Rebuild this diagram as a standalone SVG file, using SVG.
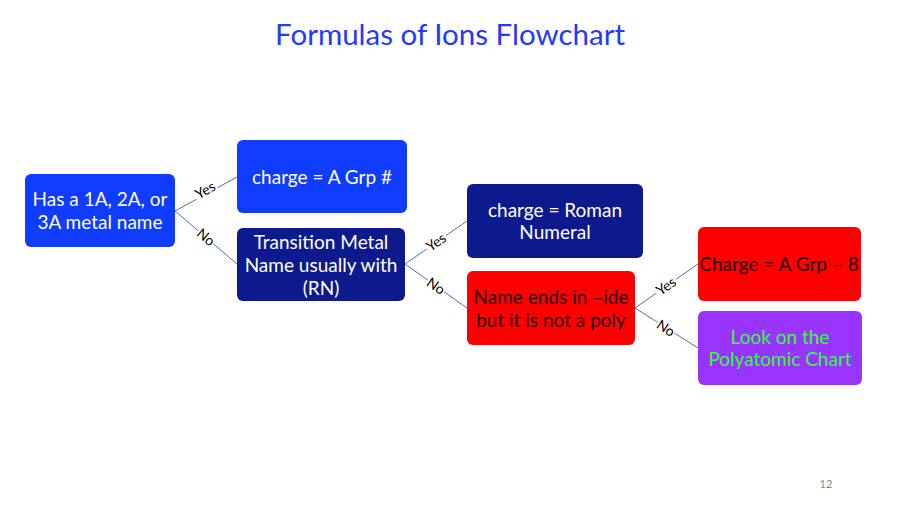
<svg xmlns="http://www.w3.org/2000/svg" width="900" height="506" viewBox="0 0 900 506">
<style>
.t{font-family:Lato,"Liberation Sans",sans-serif;font-size:19px;text-anchor:middle}
.w{fill:#ffffff}
.d{fill:#2a0000}
.g{fill:#33ff33}
.lbl{font-family:Lato,"Liberation Sans",sans-serif;font-size:14px;text-anchor:middle;fill:#000}
.c{stroke:#5b68b0;stroke-width:1;fill:none}
</style>
<rect width="900" height="506" fill="#ffffff"/>
<text x="450" y="45" font-family="Lato,'Liberation Sans',sans-serif" font-size="29.5" fill="#2438ff" text-anchor="middle">Formulas of Ions Flowchart</text>
<g id="connectors">
<path class="c" d="M175 211 L237 177"/>
<path class="c" d="M175 211 L237 264"/>
<path class="c" d="M405 264 L467 221"/>
<path class="c" d="M405 264 L467 308"/>
<path class="c" d="M635 308 L698 264"/>
<path class="c" d="M635 308 L698 348"/>
<rect x="193" y="183" width="24" height="13" fill="#fff" transform="rotate(-29 205 190)"/>
<text class="lbl" x="205" y="195" transform="rotate(-29 205 190)">Yes</text>
<rect x="196" y="230" width="20" height="13" fill="#fff" transform="rotate(40 206 237)"/>
<text class="lbl" x="206" y="242" transform="rotate(40 206 237)">No</text>
<rect x="424" y="235" width="24" height="13" fill="#fff" transform="rotate(-35 436 242)"/>
<text class="lbl" x="436" y="247" transform="rotate(-35 436 242)">Yes</text>
<rect x="426" y="279" width="20" height="13" fill="#fff" transform="rotate(35 436 286)"/>
<text class="lbl" x="436" y="291" transform="rotate(35 436 286)">No</text>
<rect x="654" y="279" width="24" height="13" fill="#fff" transform="rotate(-35 666 286)"/>
<text class="lbl" x="666" y="291" transform="rotate(-35 666 286)">Yes</text>
<rect x="656" y="321" width="20" height="13" fill="#fff" transform="rotate(33 666 328)"/>
<text class="lbl" x="666" y="333" transform="rotate(33 666 328)">No</text>
</g>
<g id="n1">
<rect x="25" y="174" width="150" height="73" rx="6" fill="#0f3cff"/>
<text class="t w" x="100" y="206">Has a 1A, 2A, or</text>
<text class="t w" x="100" y="229">3A metal name</text>
</g>
<g id="n2">
<rect x="237" y="140" width="170" height="73" rx="6" fill="#0f3cff"/>
<text class="t w" x="322" y="184">charge = A Grp #</text>
</g>
<g id="n3">
<rect x="237" y="228" width="168" height="73" rx="6" fill="#0d1a8e"/>
<text class="t w" x="321" y="249">Transition Metal</text>
<text class="t w" x="321" y="272">Name usually with</text>
<text class="t w" x="321" y="295">(RN)</text>
</g>
<g id="n4">
<rect x="467" y="184" width="176" height="74" rx="6" fill="#0d1a8e"/>
<text class="t w" x="555" y="217">charge = Roman</text>
<text class="t w" x="555" y="239">Numeral</text>
</g>
<g id="n5">
<rect x="467" y="271" width="168" height="74" rx="6" fill="#ff0000"/>
<text class="t d" x="551" y="304">Name ends in –ide</text>
<text class="t d" x="551" y="327">but it is not a poly</text>
</g>
<g id="n6">
<rect x="698" y="227" width="163" height="74" rx="6" fill="#ff0000"/>
<text class="t d" x="779" y="271">Charge = A Grp – 8</text>
</g>
<g id="n7">
<rect x="698" y="311" width="164" height="74" rx="6" fill="#9933ff"/>
<text class="t g" x="780" y="344">Look on the</text>
<text class="t g" x="780" y="366">Polyatomic Chart</text>
</g>
<text x="826" y="488" font-family="Lato,'Liberation Sans',sans-serif" font-size="11" fill="#888" text-anchor="middle">12</text>
</svg>
